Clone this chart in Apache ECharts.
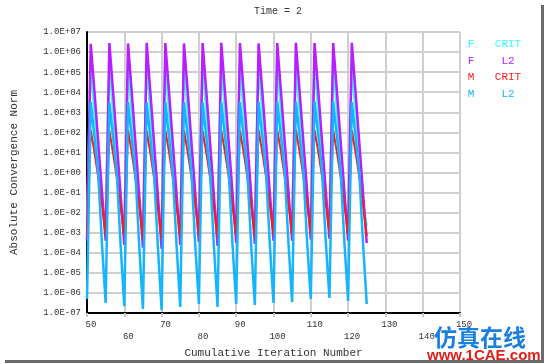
<!DOCTYPE html>
<html>
<head>
<meta charset="utf-8">
<script src="https://cdn.jsdelivr.net/npm/echarts@6/dist/echarts.min.js"></script>
<style>
html,body{margin:0;padding:0;background:#fff;}
#chart{width:545px;height:364px;}
</style>
</head>
<body>
<div id="chart"></div>
<script>
// Cumulative iteration numbers
const iterations = [50,
  51,52,53,54,55, 56,57,58,59,60, 61,62,63,64,65, 66,67,68,69,70, 71,72,73,74,75,
  76,77,78,79,80, 81,82,83,84,85, 86,87,88,89,90, 91,92,93,94,95, 96,97,98,99,100,
  101,102,103,104,105, 106,107,108,109,110, 111,112,113,114,115, 116,117,118,119,120, 121,122,123,124,125];

// F CRIT
const fCrit = [2.5e-3,
  2.6e5,1.1e3,4.5e0,3.0e-2,2.5e-3, 2.8e5,1.0e3,4.0e0,2.5e-2,2.0e-3, 2.7e5,1.0e3,3.8e0,2.2e-2,1.8e-3,
  2.9e5,9.5e2,3.6e0,2.0e-2,1.6e-3, 2.8e5,1.0e3,4.0e0,2.5e-2,2.0e-3, 2.7e5,1.1e3,4.3e0,2.8e-2,2.4e-3,
  2.8e5,1.0e3,3.9e0,2.4e-2,2.0e-3, 2.9e5,1.0e3,4.2e0,2.7e-2,2.3e-3, 2.8e5,1.0e3,4.1e0,2.6e-2,2.2e-3,
  2.7e5,1.1e3,4.4e0,2.9e-2,2.5e-3, 2.8e5,1.1e3,4.5e0,3.0e-2,2.5e-3, 2.9e5,1.1e3,4.6e0,3.2e-2,2.8e-3,
  2.8e5,1.2e3,4.8e0,3.4e-2,3.0e-3, 2.8e5,1.1e3,4.5e0,3.0e-2,2.5e-3, 2.9e5,1.0e3,4.2e0,2.7e-2,2.2e-3];

// F L2
const fL2 = [4.0e-4,
  2.6e6,1.1e4,3.5e1,1.2e-1,4.0e-4, 2.8e6,1.0e4,3.0e1,9.0e-2,2.5e-4, 2.7e6,1.0e4,2.8e1,8.0e-2,1.8e-4,
  2.9e6,9.5e3,2.6e1,7.5e-2,1.6e-4, 2.8e6,1.0e4,3.0e1,9.0e-2,2.5e-4, 2.7e6,1.1e4,3.3e1,1.1e-1,3.5e-4,
  2.8e6,1.0e4,2.9e1,8.5e-2,2.2e-4, 2.9e6,1.0e4,3.2e1,1.0e-1,3.2e-4, 2.8e6,1.0e4,3.1e1,9.5e-2,2.8e-4,
  2.7e6,1.1e4,3.4e1,1.1e-1,4.0e-4, 2.8e6,1.1e4,3.5e1,1.2e-1,4.0e-4, 2.9e6,1.1e4,3.6e1,1.3e-1,4.5e-4,
  2.8e6,1.2e4,3.8e1,1.4e-1,5.0e-4, 2.8e6,1.1e4,3.5e1,1.2e-1,4.0e-4, 2.9e6,1.0e4,3.2e1,1.0e-1,3.0e-4];

// M CRIT
const mCrit = [8.0e-4,
  1.3e2,1.0e1,6.0e-1,2.5e-2,7.0e-4, 1.2e2,9.0e0,5.5e-1,2.2e-2,6.0e-4, 1.3e2,9.5e0,5.0e-1,2.0e-2,5.0e-4,
  1.2e2,9.0e0,5.0e-1,1.8e-2,4.5e-4, 1.3e2,1.0e1,5.5e-1,2.2e-2,6.0e-4, 1.3e2,1.0e1,6.0e-1,2.5e-2,7.0e-4,
  1.2e2,9.5e0,5.5e-1,2.2e-2,5.5e-4, 1.3e2,1.0e1,6.0e-1,2.4e-2,6.5e-4, 1.3e2,1.0e1,5.8e-1,2.3e-2,6.0e-4,
  1.3e2,1.0e1,6.2e-1,2.6e-2,7.5e-4, 1.3e2,1.1e1,6.3e-1,2.7e-2,8.0e-4, 1.4e2,1.1e1,6.5e-1,2.8e-2,8.5e-4,
  1.3e2,1.1e1,6.8e-1,3.0e-2,9.0e-4, 1.3e2,1.0e1,6.2e-1,2.6e-2,7.5e-4, 1.3e2,1.0e1,6.0e-1,2.5e-2,7.0e-4];

// M L2
const mL2 = [5.0e-7,
  3.2e3,6.0e1,1.0e0,3.0e-4,3.2e-7, 3.0e3,5.5e1,9.0e-1,2.5e-4,2.2e-7, 3.2e3,5.0e1,8.0e-1,2.2e-4,1.6e-7,
  3.0e3,5.0e1,8.0e-1,2.0e-4,1.4e-7, 3.2e3,5.5e1,9.0e-1,2.5e-4,2.0e-7, 3.2e3,6.0e1,1.0e0,2.8e-4,2.8e-7,
  3.0e3,5.5e1,9.0e-1,2.5e-4,2.0e-7, 3.2e3,6.0e1,1.0e0,2.8e-4,2.8e-7, 3.2e3,5.8e1,9.5e-1,2.6e-4,2.5e-7,
  3.2e3,6.0e1,1.0e0,3.0e-4,3.2e-7, 3.4e3,6.2e1,1.1e0,3.2e-4,3.5e-7, 3.4e3,6.5e1,1.2e0,3.6e-4,5.0e-7,
  3.5e3,6.8e1,1.3e0,4.0e-4,5.6e-7, 3.3e3,6.2e1,1.1e0,3.4e-4,4.0e-7, 3.2e3,6.0e1,1.0e0,3.0e-4,2.8e-7];

const xTicks = [50,60,70,80,90,100,110,120,130,140,150];
const yExponents = [-7,-6,-5,-4,-3,-2,-1,0,1,2,3,4,5,6,7];

const seriesNames = ['F CRIT','F L2','M CRIT','M L2'];
const seriesColors = ['#33FFFF','#B81EFF','#FF1A1A','#14B4FF'];
const legendLeft = ['F','F','M','M'];
const legendRight = ['CRIT','L2','CRIT','L2'];

const mono = '"Liberation Mono", "DejaVu Sans Mono", monospace';
const seriesData = [fCrit, fL2, mCrit, mL2];
const zOrder = [2, 3, 4, 5];
const widths = [2.5, 2.5, 2, 2.5];

const chart = echarts.init(document.getElementById('chart'), null, {renderer:'canvas'});

function pairs(vals){ return iterations.map((x,i)=>[x, vals[i]]); }

const legendGraphics = [];
seriesNames.forEach((n,i)=>{
  const y = 44 + i*16.7;
  legendGraphics.push({type:'text', x:471, y:y, z:50,
    style:{text:legendLeft[i], fill:seriesColors[i], font:'11px '+mono, textAlign:'center', textVerticalAlign:'middle'}});
  legendGraphics.push({type:'text', x:508, y:y, z:50,
    style:{text:legendRight[i], fill:seriesColors[i], font:'11px '+mono, textAlign:'center', textVerticalAlign:'middle'}});
});

const option = {
  backgroundColor:'#ffffff',
  animation:false,
  title:{text:'Time = 2', left:273, top:1, textAlign:'center',
    textStyle:{fontFamily:mono, fontSize:10, fontWeight:'normal', color:'#333'}},
  grid:{left:87, top:32, width:373, height:281, containLabel:false},
  xAxis:{
    type:'value', min:xTicks[0], max:xTicks[xTicks.length-1], interval:10,
    name:'Cumulative Iteration Number', nameLocation:'middle', nameGap:31,
    nameTextStyle:{fontFamily:mono, fontSize:11, color:'#333'},
    axisLine:{show:true, onZero:false, lineStyle:{color:'#000', width:2}},
    axisTick:{show:true, length:4, lineStyle:{color:'#c8c8c8', width:2}},
    splitLine:{show:true, lineStyle:{color:'#cfcfcf', width:2}},
    axisLabel:{
      fontFamily:mono, fontSize:9, color:'#333', margin:6, lineHeight:12,
      padding:[0,0,0,8], showMinLabel:true, showMaxLabel:true,
      formatter:(v)=> ((v/10)%2===0 ? '\n'+v : String(v))
    }
  },
  yAxis:{
    type:'log', logBase:10, min:Math.pow(10,yExponents[0]), max:Math.pow(10,yExponents[yExponents.length-1]),
    interval:1,
    name:'Absolute Convergence Norm', nameLocation:'middle', nameGap:67, nameRotate:90,
    nameTextStyle:{fontFamily:mono, fontSize:11, color:'#333'},
    axisLine:{show:true, lineStyle:{color:'#000', width:2}},
    axisTick:{show:false},
    splitLine:{show:true, lineStyle:{color:'#cfcfcf', width:2}},
    axisLabel:{
      fontFamily:mono, fontSize:9, color:'#333', margin:6,
      formatter:(v)=>{ const e = Math.round(Math.log10(v)); return '1.0E' + (e<0?'-':'+') + String(Math.abs(e)).padStart(2,'0'); }
    }
  },
  series: seriesNames.map((n,i)=>({
    name:n, type:'line', data:pairs(seriesData[i]), showSymbol:false, symbol:'none',
    z:zOrder[i], lineStyle:{color:seriesColors[i], width:widths[i]}, itemStyle:{color:seriesColors[i]},
    clip:true
  })),
  graphic: legendGraphics.concat([
    {type:'text', x:434, y:337, z:60,
      style:{text:'仿真在线', fill:'#1A7FE0', font:'bold 23px "Noto Sans CJK SC", sans-serif', textVerticalAlign:'middle'}},
    {type:'text', x:427, y:356, z:60,
      style:{text:'www.1CAE.com', fill:'#E0201A', font:'bold 15px "Liberation Sans", Arial, sans-serif', textVerticalAlign:'middle'}},
    {type:'rect', shape:{x:541, y:5, width:3, height:357}, style:{fill:'#6b6b6b'}, z:40},
    {type:'rect', shape:{x:5, y:360, width:539, height:3}, style:{fill:'#6b6b6b'}, z:40}
  ])
};
chart.setOption(option);
</script>
</body>
</html>
